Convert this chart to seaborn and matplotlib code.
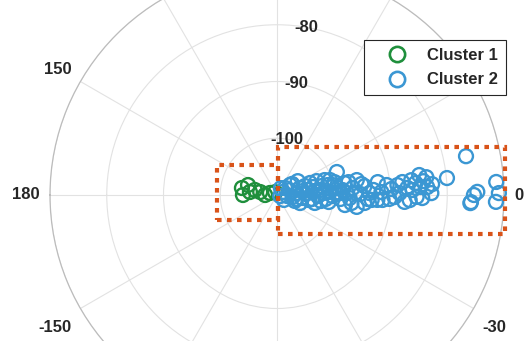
import numpy as np
import pandas as pd
import matplotlib
matplotlib.use("Agg")
import matplotlib.pyplot as plt
import seaborn as sns
from matplotlib.lines import Line2D
from matplotlib.patches import Rectangle

sns.set_theme(style="white")
plt.rcParams["font.family"] = ["Liberation Sans", "DejaVu Sans"]

# Angle of arrival (degrees) and received power (dB) per cluster
theta_c1 = [168.7, 180.0, 161.0, 173.7, 167.2, 170.0, 180.0, 164.1, 123.7]
r_c1 = [-103.7, -104.0, -104.6, -105.2, -106.0, -107.0, -107.9, -108.7, -109.4]

theta_c2 = [26.6, -5.7, 21.0, -7.1, 5.7, 16.9, -6.8, 2.0, 20.0, -6.5,
            6.0, -1.4, 11.3, 17.4, -4.7, 3.2, -1.0, 21.0, 6.5, -3.6,
            10.0, 1.6, -2.4, 5.3, 10.6, -8.5, 0.7, 5.8, -2.5, -3.0,
            3.0, 7.3, -2.8, -2.7, 5.2, -1.0, 0.9, 5.9, -3.1, 3.1,
            2.1, -0.8, 8.0, 3.2, -1.2, 6.8, 3.0, 5.4, 5.7, 11.6,
            -2.4, 0.0, 0.9, 3.4, 0.5, -1.8, -2.1, 37.6, -19.2, -11.9,
            12.6, -8.4, 17.8, -18.4, 6.6, 3.0, 6.3, 4.0, -5.2, 41.2,
            -18.4, 9.2, 11.1, 1.8, 60.3, -35.5, 36.3, -11.9, 8.7, -8.9,
            12.5, 19.3, -7.8, 2.4, -7.7, 8.3, 1.9, 4.3, 10.2, -6.1,
            1.5, 7.4, 1.2, 1.6, -2.0, 4.7, -2.2, 4.9, 0.7, 33.7,
            15.8]
r_c2 = [-108.8, -108.2, -107.6, -107.2, -106.5, -105.8, -105.6, -104.9, -103.8, -103.8,
        -103.3, -102.8, -102.0, -101.2, -101.4, -100.7, -100.2, -98.7, -99.2, -98.8,
        -97.9, -97.7, -97.2, -96.6, -95.7, -95.8, -95.3, -94.5, -94.0, -93.3,
        -93.0, -92.1, -92.3, -91.4, -90.6, -89.3, -88.4, -87.8, -87.5, -87.0,
        -86.1, -85.4, -84.7, -84.7, -84.4, -83.5, -83.5, -84.1, -79.9, -76.0,
        -75.9, -75.3, -74.7, -71.3, -70.9, -71.4, -75.8, -107.1, -105.7, -103.2,
        -99.6, -97.9, -104.8, -109.4, -102.4, -89.8, -86.2, -82.6, -94.5, -108.1,
        -106.7, -104.5, -100.9, -98.9, -108.6, -108.5, -106.7, -106.6, -105.4, -104.3,
        -103.5, -102.6, -102.2, -101.8, -100.8, -100.2, -99.6, -98.4, -97.2, -96.8,
        -96.1, -95.0, -93.7, -91.6, -90.2, -88.7, -86.6, -85.5, -82.8, -105.6,
        -100.3]

cluster_names = ["Cluster 1", "Cluster 2"]
cluster_colors = ["#1f8f3c", "#3b97d3"]

r_ticks = [-100, -90, -80, -70]
theta_ticks = [0, 30, 60, 90, 120, 150, 180, -150, -120, -90, -60, -30]

df = pd.DataFrame({
    "theta": np.deg2rad(np.r_[theta_c1, theta_c2]),
    "r": np.r_[r_c1, r_c2],
    "cluster": [cluster_names[0]] * len(theta_c1) + [cluster_names[1]] * len(theta_c2),
})

W, H = 529, 341
fig = plt.figure(figsize=(W / 100, H / 100), dpi=100)
# polar disc: centre (277, 195) px from top-left, radius 227 px
cx, cy, R = 277, 195, 227
ax = fig.add_axes([(cx - R) / W, (H - cy - R) / H, 2 * R / W, 2 * R / H],
                  projection="polar")
ax.patch.set_alpha(0)

sns.scatterplot(data=df, x="theta", y="r", hue="cluster",
                palette=dict(zip(cluster_names, cluster_colors)),
                s=100, marker="o", linewidth=1.7, legend=False, ax=ax,
                clip_on=False, zorder=3)
for coll in ax.collections:
    coll.set_edgecolors(coll.get_facecolors())
    coll.set_facecolors("none")

ax.set_thetalim(-np.pi, np.pi)
ax.set_rlim(-110, -70)
ax.set_rticks(r_ticks)
ax.set_yticklabels([])
ax.set_xticks(np.deg2rad(theta_ticks))
ax.set_xticklabels([])
ax.tick_params(length=0)
ax.set_xlabel("")
ax.set_ylabel("")
ax.grid(True, color="#e2e2e2", linewidth=0.8)
ax.spines["polar"].set_color("#bcbcbc")
ax.spines["polar"].set_linewidth(0.9)

# radial labels along the 80 degree ray
for v in r_ticks:
    ax.text(np.deg2rad(80), v, str(v), ha="center", va="center",
            fontsize=12, fontweight="bold", color="#262626", zorder=4)

# angular labels just outside the outer ring
gap = 7.2
for a in theta_ticks:
    c, s = np.cos(np.deg2rad(a)), np.sin(np.deg2rad(a))
    ha = "left" if c > 0.1 else ("right" if c < -0.1 else "center")
    va = "bottom" if s > 0.1 else ("top" if s < -0.1 else "center")
    dy = gap * s - (4.5 if va == "top" else 0)
    ax.annotate(str(a), xy=(np.deg2rad(a), -70), xytext=(gap * c, dy),
                textcoords="offset points", ha=ha, va=va, fontsize=12,
                fontweight="bold", color="#262626", annotation_clip=False)

handles = [Line2D([], [], linestyle="none", marker="o", markersize=11,
                  markerfacecolor="none", markeredgecolor=col, markeredgewidth=1.9)
           for col in cluster_colors]
leg = fig.legend(handles, cluster_names, loc="upper left",
                 bbox_to_anchor=(364 / W, 1 - 40 / H), frameon=True,
                 fancybox=False, edgecolor="#262626", framealpha=1,
                 borderpad=0.47, labelspacing=0.58, handlelength=2.96,
                 handletextpad=0.35, borderaxespad=0,
                 prop={"size": 12, "weight": "bold"})
leg.get_frame().set_linewidth(0.8)

# dotted highlight boxes, in figure pixels from the top-left corner
boxes = [(217, 165, 278, 220), (278, 147, 505, 234)]
for x0, y0, x1, y1 in boxes:
    fig.add_artist(Rectangle((x0 / W, (H - y1) / H), (x1 - x0) / W, (y1 - y0) / H,
                             transform=fig.transFigure, fill=False,
                             edgecolor="#D95319", linewidth=3.0,
                             linestyle=(0, (1.1, 1.3)), zorder=10))

fig.savefig("out.png", dpi=100)
